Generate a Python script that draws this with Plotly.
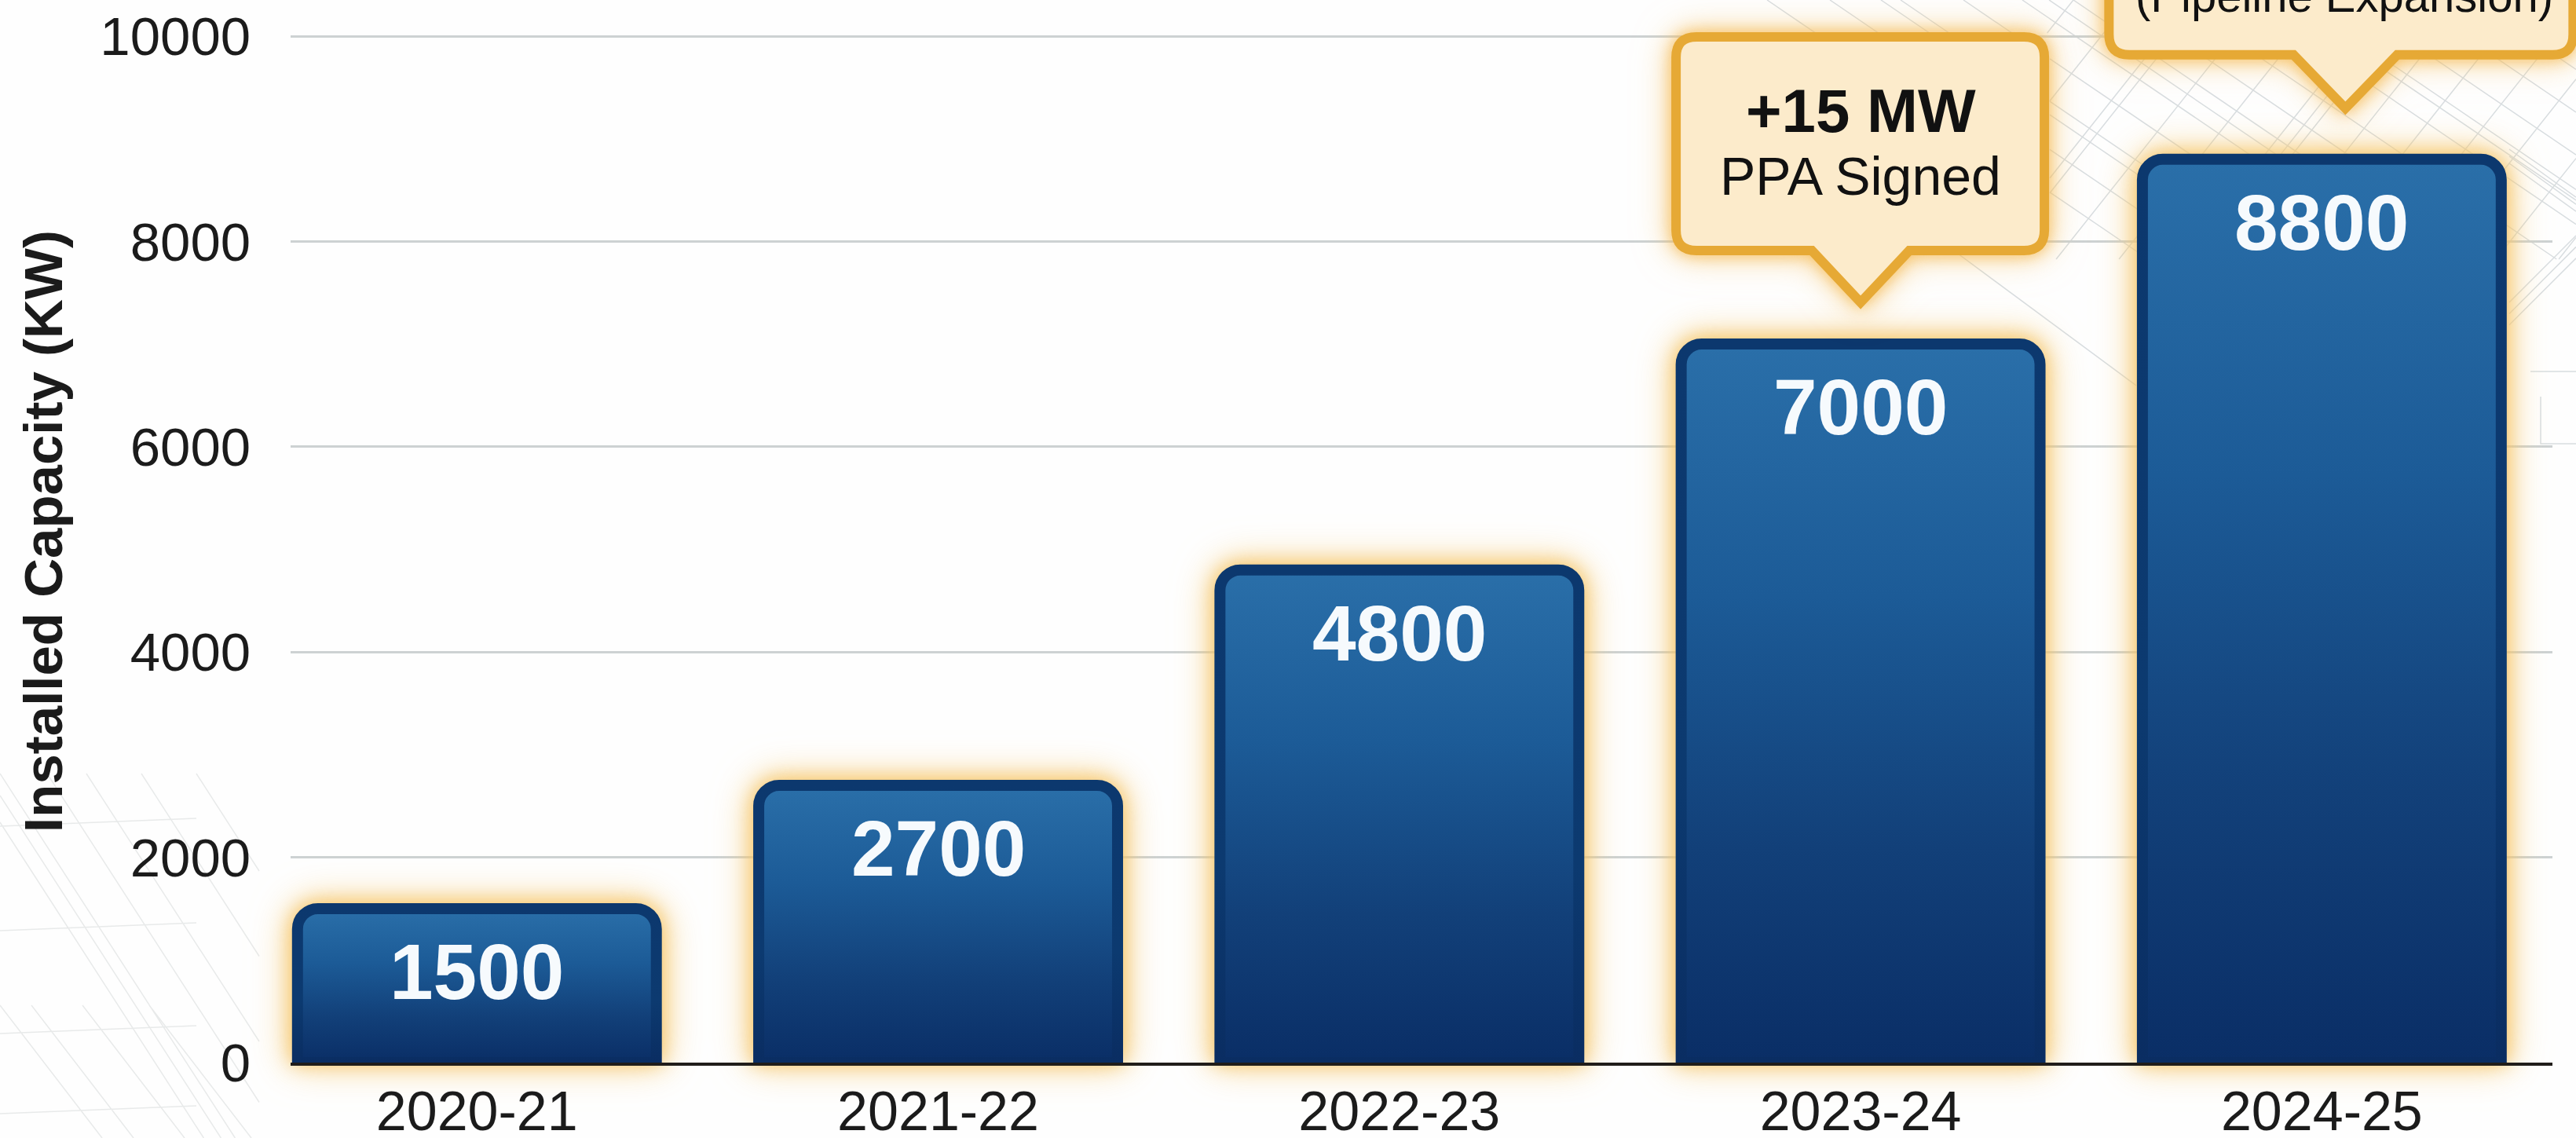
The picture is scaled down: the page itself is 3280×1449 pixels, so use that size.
import plotly.graph_objects as go

categories = ["2020-21", "2021-22", "2022-23", "2023-24", "2024-25"]
capacity_kw = [1500, 2700, 4800, 7000, 8800]
y_ticks = [0, 2000, 4000, 6000, 8000, 10000]
y_title = "Installed Capacity (KW)"

FONT = "Liberation Sans"
INK = "#1b1b1b"
W, H = 3280, 1449
L, R, T, B = 370, 30, 0, 96
positions = list(range(len(categories)))


def callout_path(left, right, top, bottom, tip_dx, tip_up, half, r=26):
    return (
        f"M {left + r} {top} L {right - r} {top} Q {right} {top} {right} {top - r} "
        f"L {right} {bottom + r} Q {right} {bottom} {right - r} {bottom} "
        f"L {tip_dx + half} {bottom} L {tip_dx} {tip_up} L {tip_dx - half} {bottom} "
        f"L {left + r} {bottom} Q {left} {bottom} {left} {bottom + r} "
        f"L {left} {top - r} Q {left} {top} {left + r} {top} Z"
    )


# ---- faint street-map decoration behind the chart (page pixels -> paper fractions)
def px(x, y):
    return f"{(x - L) / (W - L - R):.5f} {(H - B - y) / (H - B - T):.5f}"


def clip_line(x0, y0, slope, rect):
    xa, xb, ya, yb = rect
    x1, x2 = xa, xb
    if slope:
        lo, hi = sorted(((ya - y0) / slope + x0, (yb - y0) / slope + x0))
        x1, x2 = max(x1, lo), min(x2, hi)
    if x1 >= x2:
        return ""
    return f"M {px(x1, y0 + slope * (x1 - x0))} L {px(x2, y0 + slope * (x2 - x0))} "


upper_rects = [(2150, 2700, 0, 42), (2610, 3280, 0, 330)]
upper_a = [2250, 2330, 2395, 2420, 2500, 2575, 2609, 2640, 2700, 2770, 2860, 2905, 2925, 2990, 3070, 3150]
upper_b = [2640, 2712, 2790, 2805, 2880, 2960, 3040, 3060, 3075, 3140, 3215, 3290, 3360, 3440, 3520]
map_upper = ""
for rect in upper_rects:
    for x0 in upper_a:
        map_upper += clip_line(x0, 0, 0.68, rect)
    for x0 in upper_b:
        map_upper += clip_line(x0, 0, -1.26, rect)
map_upper += clip_line(2489, 320, 0.74, (2489, 2720, 320, 500))
for dy in (0, 9, 18):
    map_upper += clip_line(3195, 190 + dy, 0.72, (3195, 3280, 150, 300))
    map_upper += clip_line(3195, 385 + dy * 1.6, -1.0, (3195, 3280, 280, 460))
map_upper += f"M {px(3235, 505)} L {px(3235, 565)} L {px(3280, 565)} "
map_upper += f"M {px(3222, 473)} L {px(3280, 473)} "

map_lower = ""
for x0 in [-40, -18, 0, 60, 110, 180, 250, 330]:
    map_lower += clip_line(x0, 985, 1.55, (0, 330, 985, 1449))
for y0 in [1052, 1185, 1316, 1418]:
    map_lower += clip_line(0, y0, -0.04, (0, 250, 900, 1449))
for x0 in [0, 40, 105, 190]:
    map_lower += clip_line(x0, 1280, 1.3, (0, 400, 1280, 1449))

fig = go.Figure(
    go.Bar(
        x=positions,
        y=capacity_kw,
        width=0.778,
        cliponaxis=False,
        marker=dict(color="#1c5791", line=dict(color="#0c386e", width=14), cornerradius=26),
        hoverinfo="skip",
    )
)

shapes = [
    dict(type="path", xref="paper", yref="paper", path=map_upper, layer="below",
         line=dict(color="#d8dde0", width=1.5)),
    dict(type="path", xref="paper", yref="paper", path=map_lower, layer="below",
         line=dict(color="#e8eaea", width=1.5)),
    dict(
        type="path", xref="x", yref="y", xsizemode="pixel", ysizemode="pixel",
        xanchor=3, yanchor=capacity_kw[3],
        path=callout_path(-235, 234, 391, 119, 0, 53, 62),
        fillcolor="#fcebcb", line=dict(color="#e6a935", width=12), layer="above",
    ),
    dict(
        type="path", xref="x", yref="y", xsizemode="pixel", ysizemode="pixel",
        xanchor=4, yanchor=capacity_kw[4],
        path=callout_path(-271, 320, 303, 133, 30, 65, 66),
        fillcolor="#fcebcb", line=dict(color="#e6a935", width=12), layer="above",
    ),
]

annotations = [
    dict(x=p, y=v, text=f"<b>{v}</b>", yshift=-80, showarrow=False, yanchor="middle",
         font=dict(family=FONT, size=100, color="#f6fafd"))
    for p, v in zip(positions, capacity_kw)
]
annotations += [
    dict(x=3, y=capacity_kw[3], text="<b>+15 MW</b>", yshift=297, showarrow=False,
         font=dict(family=FONT, size=78, color="#111111")),
    dict(x=3, y=capacity_kw[3], text="PPA Signed", yshift=214, showarrow=False,
         font=dict(family=FONT, size=68, color="#111111")),
    dict(x=4, y=capacity_kw[4], text="(Pipeline Expansion)", xshift=29, yshift=208, showarrow=False,
         font=dict(family=FONT, size=58, color="#111111")),
]

fig.update_layout(
    width=W, height=H,
    margin=dict(l=L, r=R, t=T, b=B, autoexpand=False),
    paper_bgcolor="#fefefe", plot_bgcolor="rgba(0,0,0,0)",
    showlegend=False, shapes=shapes, annotations=annotations,
    font=dict(family=FONT, color=INK),
)
fig.update_xaxes(
    range=[-0.404, 4.5], tickvals=positions, ticktext=categories,
    showgrid=False, zeroline=False, showline=True, linecolor="#201d1a", linewidth=4,
    ticks="", ticklabelstandoff=-2,
    tickfont=dict(family=FONT, size=70, color=INK),
)
fig.update_yaxes(
    range=[0, 10352], tickvals=y_ticks, ticktext=[str(t) for t in y_ticks],
    showgrid=True, gridcolor="#cdd2d3", gridwidth=3, zeroline=False, showline=False,
    ticks="outside", ticklen=36, tickcolor="rgba(0,0,0,0)",
    tickfont=dict(family=FONT, size=69, color=INK),
    title=dict(text=f"<b>{y_title}</b>", font=dict(family=FONT, size=69, color=INK), standoff=25),
)

post = """
document.documentElement.style.margin='0';document.body.style.margin='0';
var svg=document.querySelector('.main-svg');
var defs=svg.querySelector('defs');
var ns='http://www.w3.org/2000/svg';
function grad(id,stops){
  var g=document.createElementNS(ns,'linearGradient');
  g.setAttribute('id',id);g.setAttribute('x1','0');g.setAttribute('y1','0');g.setAttribute('x2','0');g.setAttribute('y2','1');
  stops.forEach(function(s){
    var st=document.createElementNS(ns,'stop');st.setAttribute('offset',s[0]);st.setAttribute('stop-color',s[1]);g.appendChild(st);});
  defs.appendChild(g);
}
grad('barGrad',[[0,'#2a6fa9'],[0.35,'#1c5b97'],[0.7,'#124079'],[1,'#0a2e66']]);
grad('barEdge',[[0,'#0c386e'],[0.6,'#0c3a70'],[1,'#0a2d62']]);
document.querySelectorAll('.barlayer .point path').forEach(function(p){
  p.style.fill='url(#barGrad)';p.style.stroke='url(#barEdge)';p.style.clipPath='inset(0 0 7px 0)';});
var bl=document.querySelector('.barlayer');
bl.style.filter='drop-shadow(0 0 12px rgba(245,195,100,1)) drop-shadow(0 0 22px rgba(246,200,110,0.75))';
document.querySelectorAll('.layer-above .shapelayer path').forEach(function(p){
  p.removeAttribute('clip-path');p.parentNode.removeAttribute('clip-path');
  p.style.filter='drop-shadow(0 0 10px rgba(245,185,80,0.85)) drop-shadow(0 0 20px rgba(245,190,90,0.55))';});
"""
fig.write_html("out.html", post_script=post, config={"displayModeBar": False})
